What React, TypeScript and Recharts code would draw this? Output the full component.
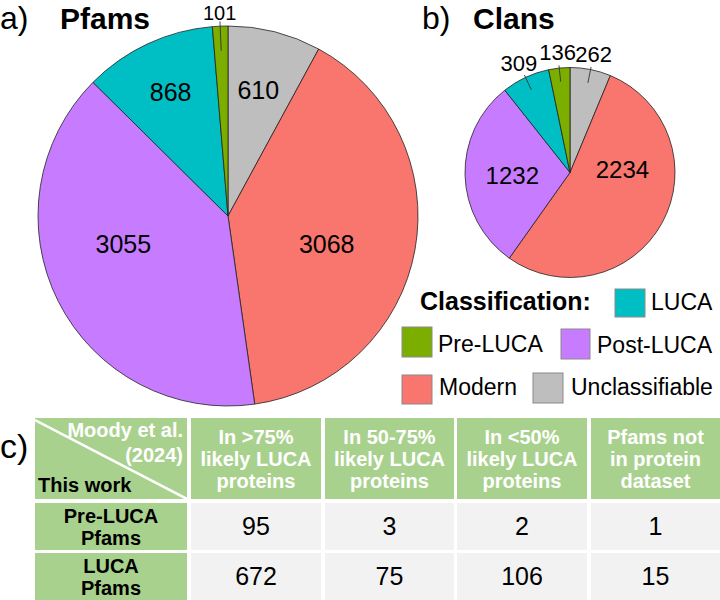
import { PieChart, Pie, Cell } from 'recharts';

const categories = ['Unclassifiable', 'Modern', 'Post-LUCA', 'LUCA', 'Pre-LUCA'];
const pfamCounts = [610, 3068, 3055, 868, 101];
const clanCounts = [262, 2234, 1232, 309, 136];

const tableHeaders = ['In >75%\nlikely LUCA\nproteins', 'In 50-75%\nlikely LUCA\nproteins', 'In <50%\nlikely LUCA\nproteins', 'Pfams not\nin protein\ndataset'];
const tableRowLabels = ['Pre-LUCA\nPfams', 'LUCA\nPfams'];
const preLucaOverlap = [95, 3, 2, 1];
const lucaOverlap = [672, 75, 106, 15];

const COLORS: Record<string, string> = {
    Unclassifiable: '#BEBEBE',
    Modern: '#F8766D',
    'Post-LUCA': '#C77CFF',
    LUCA: '#00BFC4',
    'Pre-LUCA': '#7CAE00',
};

const FONT = '"Liberation Sans", Arial, Helvetica, sans-serif';
const GREEN = '#A9D18E';
const GREY_CELL = '#F2F2F2';
const RAD = Math.PI / 180;

// label placement: [radius fraction, clockwise nudge in degrees]; slices not listed get an outside label
interface LabelCfg {
    inside: Record<string, [number, number]>;
    outsideR: number;
    font: number;
    outsideFont: number;
}

const pfamLabelCfg: LabelCfg = {
    inside: { Unclassifiable: [0.68, -0.7], Modern: [0.54, 5.6], 'Post-LUCA': [0.57, 11.7], LUCA: [0.72, 0.2] },
    outsideR: 1.07,
    font: 25,
    outsideFont: 20,
};

const clanLabelCfg: LabelCfg = {
    inside: { Modern: [0.5, -31.7], 'Post-LUCA': [0.55, -1] },
    outsideR: 1.15,
    font: 24,
    outsideFont: 22,
};

function makeLabel(cfg: LabelCfg) {
    return (p: any) => {
        const { cx, cy, midAngle, outerRadius, value } = p;
        const name = p.payload?.name ?? p.name;
        const at = (r: number, ang: number) => [cx + r * Math.cos(-ang * RAD), cy + r * Math.sin(-ang * RAD)];
        const pos = cfg.inside[name];
        if (pos) {
            const [x, y] = at(outerRadius * pos[0], midAngle - pos[1]);
            return (
                <text x={x} y={y} textAnchor="middle" dominantBaseline="central" fontSize={cfg.font} fill="#000" fontFamily={FONT}>
                    {value}
                </text>
            );
        }
        const [x1, y1] = at(outerRadius * 0.87, midAngle);
        const [x2, y2] = at(outerRadius * 1.025, midAngle);
        const [tx, ty] = at(outerRadius * cfg.outsideR, midAngle);
        return (
            <g>
                <line x1={x1} y1={y1} x2={x2} y2={y2} stroke="#333" strokeWidth={0.9} />
                <text x={tx} y={ty} textAnchor="middle" dominantBaseline="central" fontSize={cfg.outsideFont} fill="#000" fontFamily={FONT}>
                    {value}
                </text>
            </g>
        );
    };
}

const COL_X = [35, 191, 325, 457, 591];
const COL_W = [152, 130, 129, 130, 129];
const ROW_Y = [418, 503, 553];
const ROW_H = [81, 47, 47];

function Lines({ text }: { text: string }) {
    return (
        <>
            {text.split('\n').map((t, i) => (
                <div key={i}>{t}</div>
            ))}
        </>
    );
}

function Swatch({ name, x, y, w, h, tx, ty }: { name: string; x: number; y: number; w: number; h: number; tx: number; ty: number }) {
    return (
        <g>
            <rect x={x} y={y} width={w} height={h} fill={COLORS[name]} stroke="#8a8a8a" strokeWidth={1} />
            <text x={tx} y={ty} fontSize={23} fill="#000">{name}</text>
        </g>
    );
}

export default function App() {
    const pfamData = categories.map((name, i) => ({ name, value: pfamCounts[i] }));
    const clanData = categories.map((name, i) => ({ name, value: clanCounts[i] }));
    const bodyRows = [preLucaOverlap, lucaOverlap];

    const cellBase = {
        position: 'absolute' as const,
        display: 'flex',
        flexDirection: 'column' as const,
        justifyContent: 'center',
        alignItems: 'center',
        textAlign: 'center' as const,
        boxSizing: 'border-box' as const,
    };

    return (
        <div style={{ position: 'absolute', left: 0, top: 0, width: 720, height: 600, overflow: 'hidden', background: '#fff', fontFamily: FONT }}>
            <div style={{ position: 'absolute', left: 0, top: 0 }}>
                <PieChart width={440} height={420} margin={{ top: 0, right: 0, bottom: 0, left: 0 }}>
                    <Pie
                        data={pfamData}
                        dataKey="value"
                        nameKey="name"
                        cx={228}
                        cy={216}
                        outerRadius={190}
                        startAngle={90}
                        endAngle={-270}
                        stroke="#222"
                        strokeWidth={0.8}
                        label={makeLabel(pfamLabelCfg)}
                        labelLine={false}
                        isAnimationActive={false}
                    >
                        {pfamData.map((d) => (
                            <Cell key={d.name} fill={COLORS[d.name]} />
                        ))}
                    </Pie>
                </PieChart>
            </div>
            <div style={{ position: 'absolute', left: 440, top: 0 }}>
                <PieChart width={280} height={290} margin={{ top: 0, right: 0, bottom: 0, left: 0 }}>
                    <Pie
                        data={clanData}
                        dataKey="value"
                        nameKey="name"
                        cx={130}
                        cy={172.5}
                        outerRadius={105}
                        startAngle={90}
                        endAngle={-270}
                        stroke="#222"
                        strokeWidth={0.8}
                        label={makeLabel(clanLabelCfg)}
                        labelLine={false}
                        isAnimationActive={false}
                    >
                        {clanData.map((d) => (
                            <Cell key={d.name} fill={COLORS[d.name]} />
                        ))}
                    </Pie>
                </PieChart>
            </div>

            <svg width={720} height={600} style={{ position: 'absolute', left: 0, top: 0, pointerEvents: 'none' }} fontFamily={FONT}>
                <text x={0} y={29} fontSize={32}>a)</text>
                <text x={60} y={29} fontSize={30} fontWeight="bold">Pfams</text>
                <text x={422} y={29} fontSize={32}>b)</text>
                <text x={473} y={29} fontSize={30} fontWeight="bold">Clans</text>
                <text x={0} y={458} fontSize={34}>c)</text>

                <text x={420} y={310} fontSize={25} fontWeight="bold">Classification:</text>
                <Swatch name="LUCA" x={615} y={289} w={30} h={28} tx={651} ty={310} />
                <Swatch name="Pre-LUCA" x={402} y={327} w={30} h={30} tx={438} ty={352} />
                <Swatch name="Post-LUCA" x={561} y={329} w={29} h={30} tx={597} ty={353} />
                <Swatch name="Modern" x={402} y={375} w={30} h={29} tx={439} ty={395} />
                <Swatch name="Unclassifiable" x={533} y={373} w={30} h={30} tx={571} ty={395} />
            </svg>

            {/* table */}
            <div style={{ position: 'absolute', left: COL_X[0], top: ROW_Y[0], width: COL_W[0], height: ROW_H[0], background: GREEN }}>
                <svg width={COL_W[0]} height={ROW_H[0]} style={{ position: 'absolute', left: 0, top: 0 }}>
                    <line x1={0} y1={2} x2={COL_W[0]} y2={ROW_H[0]} stroke="#fff" strokeWidth={2.5} />
                </svg>
                <div style={{ position: 'absolute', right: 4, top: 0, color: '#fff', fontWeight: 'bold', fontSize: 20, lineHeight: '25px', textAlign: 'right' }}>
                    <div>Moody et al.</div>
                    <div>(2024)</div>
                </div>
                <div style={{ position: 'absolute', left: 3, bottom: 3, color: '#000', fontWeight: 'bold', fontSize: 20, lineHeight: '22px' }}>This work</div>
            </div>
            {tableHeaders.map((h, i) => (
                <div
                    key={h}
                    style={{ ...cellBase, left: COL_X[i + 1], top: ROW_Y[0], width: COL_W[i + 1], height: ROW_H[0], background: GREEN, color: '#fff', fontWeight: 'bold', fontSize: 20, lineHeight: '22px' }}
                >
                    <Lines text={h} />
                </div>
            ))}
            {tableRowLabels.map((lab, r) => (
                <div key={lab}>
                    <div
                        style={{ ...cellBase, left: COL_X[0], top: ROW_Y[r + 1], width: COL_W[0], height: ROW_H[r + 1], background: GREEN, color: '#000', fontWeight: 'bold', fontSize: 20, lineHeight: '22px' }}
                    >
                        <Lines text={lab} />
                    </div>
                    {bodyRows[r].map((v, c) => (
                        <div
                            key={c}
                            style={{ ...cellBase, left: COL_X[c + 1], top: ROW_Y[r + 1], width: COL_W[c + 1], height: ROW_H[r + 1], background: GREY_CELL, color: '#000', fontSize: 25 }}
                        >
                            {v}
                        </div>
                    ))}
                </div>
            ))}
        </div>
    );
}
